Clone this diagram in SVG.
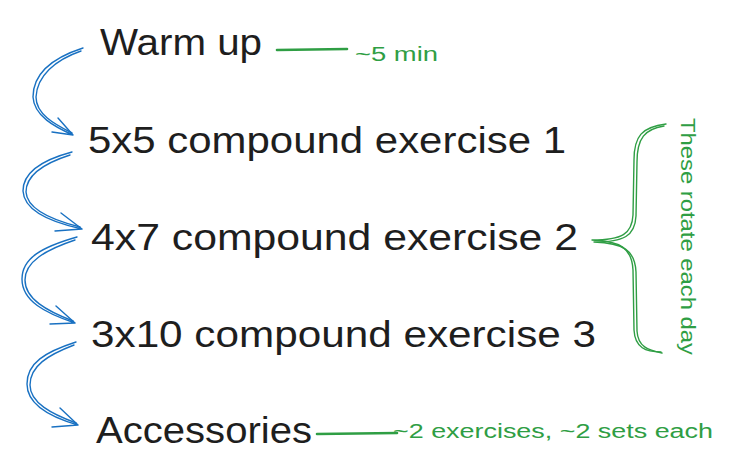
<svg xmlns="http://www.w3.org/2000/svg" width="733" height="476" viewBox="0 0 733 476">
<style>
.t{font-family:"Liberation Sans","DejaVu Sans",sans-serif;fill:#1e1e1e;font-size:36px}
.g{font-family:"Liberation Sans","DejaVu Sans",sans-serif;fill:#2f9e44;font-size:20px}
.bl{fill:none;stroke:#1971c2;stroke-width:1.4;stroke-linecap:round;stroke-linejoin:round}
.gl{fill:none;stroke:#2f9e44;stroke-width:1.4;stroke-linecap:round;stroke-linejoin:round}
.gt{fill:none;stroke:#2f9e44;stroke-width:2.6;stroke-linecap:round}
</style>
<rect width="733" height="476" fill="#ffffff"/>
<g id="warmup"><text class="t" x="100" y="55" font-size="33" textLength="162" lengthAdjust="spacingAndGlyphs">Warm up</text></g>
<g id="ex1"><text class="t" x="88" y="153" textLength="478" lengthAdjust="spacingAndGlyphs">5x5 compound exercise 1</text></g>
<g id="ex2"><text class="t" x="91" y="250" textLength="487" lengthAdjust="spacingAndGlyphs">4x7 compound exercise 2</text></g>
<g id="ex3"><text class="t" x="91" y="347" textLength="505" lengthAdjust="spacingAndGlyphs">3x10 compound exercise 3</text></g>
<g id="accessories"><text class="t" x="96" y="443" textLength="216" lengthAdjust="spacingAndGlyphs">Accessories</text></g>
<g id="note-warmup">
<path class="gt" d="M277,50 L347,49"/>
<text class="g" x="355" y="61" textLength="83" lengthAdjust="spacingAndGlyphs">~5 min</text>
</g>
<g id="note-accessories">
<path class="gt" d="M317,434 L397,433"/>
<text class="g" x="393" y="438" textLength="320" lengthAdjust="spacingAndGlyphs">~2 exercises, ~2 sets each</text>
</g>
<g id="brace">
<path class="gl" d="M666,124 C642,127 634,136 634,160 L633,215 C632,234 622,240 592,240 C620,241 632,248 633,270 L634,330 C635,348 646,352 661,352"/>
<path class="gl" d="M664,126 C645,129 637,138 637,162 L636,216 C635,236 624,242 594,242 C623,243 635,250 636,272 L637,331 C638,347 648,350 662,353"/>
<text class="g" transform="translate(681,118) rotate(90)" textLength="237" lengthAdjust="spacingAndGlyphs">These rotate each day</text>
</g>
<g id="connectors">
<path class="bl" d="M83,48 C52,58 33,74 33,97 C34,116 55,127 73,135 M58,118 L73,135 L52,132"/>
<path class="bl" d="M81,51 C55,60 37,76 36,97 C36,114 54,124 72,133"/>
<path class="bl" d="M72,152 C42,160 23,172 23,191 C24,210 50,222 82,229 M61,213 L82,229 L55,231"/>
<path class="bl" d="M70,155 C45,163 26,175 26,192 C27,209 52,220 80,227"/>
<path class="bl" d="M77,237 C42,247 22,258 22,279 C22,301 45,313 75,323 M56,306 L75,323 L50,324"/>
<path class="bl" d="M75,240 C45,250 25,262 25,280 C25,299 47,311 73,321"/>
<path class="bl" d="M76,342 C45,352 27,363 27,384 C27,405 50,417 78,425 M60,408 L78,425 L52,427"/>
<path class="bl" d="M74,345 C48,355 30,366 30,385 C30,403 52,414 76,423"/>
</g>
</svg>
